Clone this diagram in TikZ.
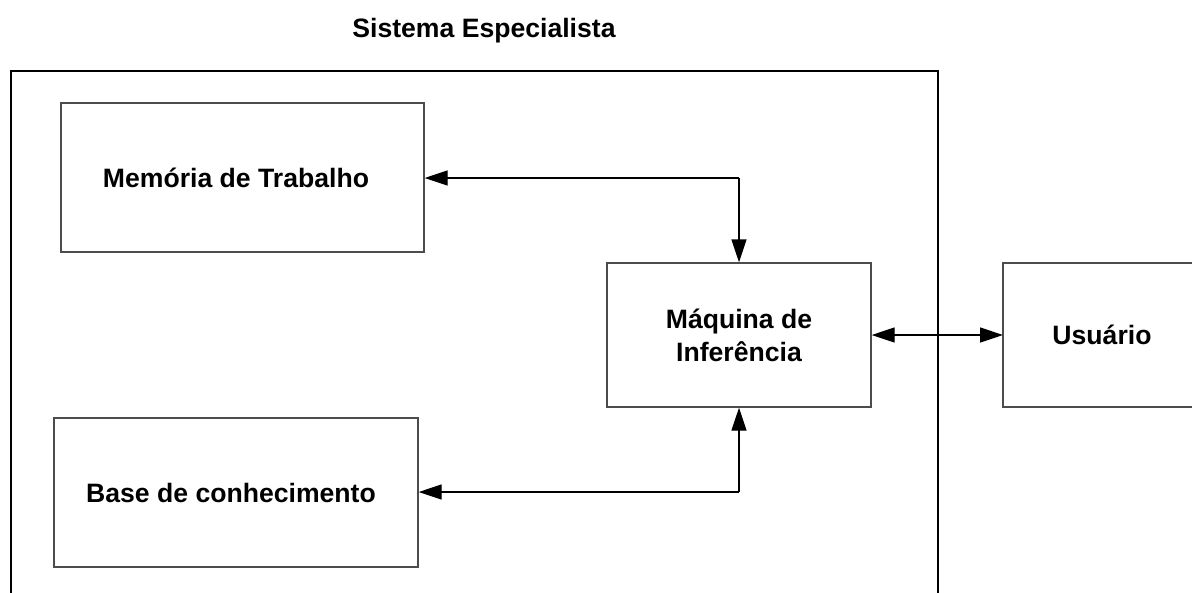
\documentclass[tikz,border=0pt]{standalone}
\usepackage{fontspec}
\setmainfont{Liberation Sans}
\usetikzlibrary{arrows.meta}
\begin{document}
\begin{tikzpicture}[x=1pt,y=-1pt,
  txt/.style={font=\fontsize{26.6}{33}\selectfont\bfseries, align=center},
  blk/.style={draw=black!70, line width=1.4pt, inner sep=0pt},
  conn/.style={line width=1.4pt, -{Triangle[length=23pt,width=15pt]}},
  conn2/.style={line width=1.4pt, {Triangle[length=23pt,width=15pt]}-{Triangle[length=23pt,width=15pt]}}]
\useasboundingbox (0,0) rectangle (1192,592);
\clip (0,0) rectangle (1192,592);
\node[txt] (title) at (484,31) {Sistema Especialista};
\draw[line width=1.4pt] (11,620) -- (11,71) -- (938,71) -- (938,620);
\node[blk, minimum width=363pt, minimum height=149pt] (mem) at (242.5,177.5) {};
\node[txt] (memtext) at (236,177.5) {Memória de Trabalho};
\node[blk, minimum width=364pt, minimum height=149pt] (base) at (236,492.5) {};
\node[txt] (basetext) at (231,492.5) {Base de conhecimento};
\node[blk, txt, minimum width=264pt, minimum height=144pt] (maq) at (739,335) {Máquina de\\Inferência};
\draw[draw=black!70, line width=1.4pt] (1250,263) -- (1003,263) -- (1003,407) -- (1250,407);
\coordinate (usu) at (1003,335);
\node[txt] (usutext) at (1102,335) {Usuário};
\coordinate (c1) at (739,178);
\coordinate (c2) at (739,492);
\draw[conn] (c1) -- (maq.north);
\draw[conn] (c1) -- (mem.east |- c1);
\draw[conn] (c2) -- (maq.south);
\draw[conn] (c2) -- (base.east |- c2);
\draw[conn2] (maq.east) -- (usu);
\end{tikzpicture}
\end{document}
